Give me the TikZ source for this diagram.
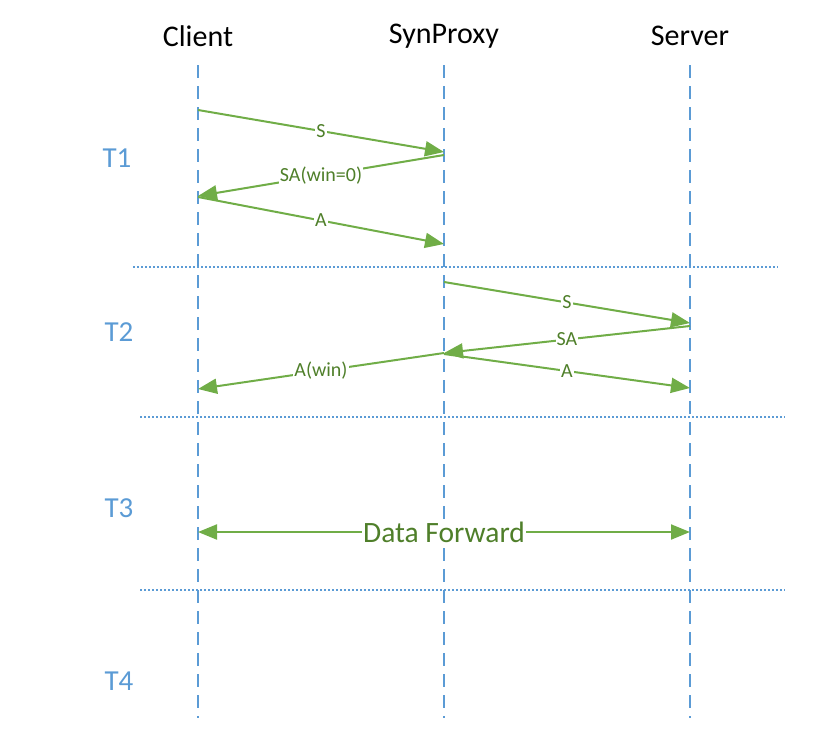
\documentclass[tikz,border=0pt]{standalone}
\usepackage{fontspec}
\setmainfont{Carlito}
\usetikzlibrary{arrows.meta}
\definecolor{lblue}{HTML}{5B9BD5}
\definecolor{lgreen}{HTML}{70AD47}
\definecolor{tgreen}{HTML}{4F7F2A}
\tikzset{
  life/.style={draw=lblue, line width=1.6pt, dash pattern=on 13pt off 8pt},
  sep/.style={draw=lblue, line width=1.8pt, dash pattern=on 2.4pt off 1.6pt},
  tip/.style={},
  msg/.style={draw=lgreen, line width=2pt, -{Triangle[length=19pt,width=15pt,fill=lgreen]}},
  msglbl/.style={fill=white, text=tgreen, inner sep=1pt, font=\fontsize{20}{22}\selectfont},
  head/.style={font=\fontsize{30}{32}\selectfont, text=black},
  tlbl/.style={font=\fontsize{29}{31}\selectfont, text=lblue},
}
\begin{document}
\begin{tikzpicture}[x=1pt,y=-1pt]
\useasboundingbox (0,0) rectangle (814,739);
% headers
\node[head] (hc) at (198,36) {Client};
\node[head] (hp) at (444,36) {SynProxy};
\node[head] (hs) at (690,36) {Server};
% lifelines
\coordinate (ct) at (198,65); \coordinate (cb) at (198,718);
\coordinate (pt) at (444,65); \coordinate (pb) at (444,718);
\coordinate (st) at (690,65); \coordinate (sb) at (690,718);
\draw[life] (ct) -- (cb);
\draw[life] (pt) -- (pb);
\draw[life] (st) -- (sb);
% separators
\coordinate (s1a) at (133,267); \coordinate (s1b) at (778,267);
\coordinate (s2a) at (140,417); \coordinate (s2b) at (785,417);
\coordinate (s3a) at (140,590); \coordinate (s3b) at (785,590);
\draw[sep] (s1a) -- (s1b);
\draw[sep] (s2a) -- (s2b);
\draw[sep] (s3a) -- (s3b);
% phase labels
\node[tlbl] (t1) at (117,158) {T1};
\node[tlbl] (t2) at (119,332) {T2};
\node[tlbl] (t3) at (119,508) {T3};
\node[tlbl] (t4) at (119,681) {T4};
% T1 messages
\coordinate (a1) at (198,110); \coordinate (b1) at (444,152);
\coordinate (a2) at (444,155); \coordinate (b2) at (198,196);
\coordinate (a3) at (198,197); \coordinate (b3) at (444,244);
\draw[msg] (a1) -- node[msglbl] (l1) {S} (b1);
\draw[msg] (a2) -- node[msglbl] (l2) {SA(win=0)} (b2);
\draw[msg] (a3) -- node[msglbl] (l3) {A} (b3);
% T2 messages
\coordinate (a4) at (444,282); \coordinate (b4) at (690,323);
\coordinate (a5) at (690,326); \coordinate (b5) at (444,353);
\coordinate (a6) at (444,353); \coordinate (b6) at (198,389);
\coordinate (a7) at (444,354); \coordinate (b7) at (690,388);
\draw[msg] (a4) -- node[msglbl] (l4) {S} (b4);
\draw[msg] (a5) -- node[msglbl] (l5) {SA} (b5);
\draw[msg] (a6) -- node[msglbl] (l6) {A(win)} (b6);
\draw[msg] (a7) -- node[msglbl] (l7) {A} (b7);
% T3 data forward
\coordinate (d1) at (198,532); \coordinate (d2) at (690,532);
\draw[msg, {Triangle[length=19pt,width=15pt,fill=lgreen]}-{Triangle[length=19pt,width=15pt,fill=lgreen]}] (d1) -- node[msglbl, font=\fontsize{29.5}{31}\selectfont] (df) {Data Forward} (d2);
\end{tikzpicture}
\end{document}
